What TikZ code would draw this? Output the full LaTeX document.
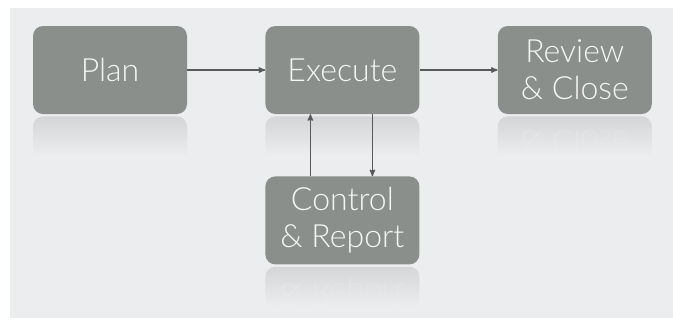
\documentclass[tikz,border=0pt]{standalone}
\usepackage{fontspec}
\setmainfont{Lato Light}
\usetikzlibrary{arrows,positioning,fadings}

\definecolor{boxgray}{HTML}{8A8F8C}
\definecolor{bggray}{HTML}{ECEDEF}
\definecolor{arrowgray}{HTML}{585A5A}
\tikzfading[name=reflfade, top color=transparent!100, bottom color=transparent!0]

\begin{document}
\begin{tikzpicture}[x=1pt,y=1pt,>=stealth',node distance=62pt and 78pt,
    box/.style={rectangle,rounded corners=10pt,fill=boxgray,text=white!92!boxgray,
        minimum width=154pt,minimum height=88pt,inner sep=0pt,align=center,
        font=\fontsize{32}{37}\selectfont},
    flow/.style={->,draw=arrowgray,line width=1.3pt}]

    \useasboundingbox (0,0) rectangle (673,-327);
    \fill[bggray] (10,-8) rectangle (673,-318);

    \node[box] (plan) at (110,-70) {Plan};
    \node[box] (exec) [right=of plan] {Execute};
    \node[box] (review) [right=of exec] {Review\\\& Close};
    \node[box] (ctrl) [below=of exec] {Control\\\& Report};

    % reflections (only the line next to the floor shows)
    \foreach \n/\t in {plan/{},exec/{},review/{\phantom{Review}\\\& Close},ctrl/{\phantom{Control}\\\& Report}} {
        \begin{scope}
            \clip ([yshift=-2pt]\n.south west) rectangle ([yshift=-40pt]\n.south east);
            \node[box,opacity=.25,yscale=-1,transform shape,anchor=south] at ([yshift=-2pt]\n.south) {\t};
        \end{scope}
        \fill[bggray,path fading=reflfade] ([yshift=-1pt]\n.south west) rectangle ([yshift=-41pt]\n.south east);
    }

    \draw[flow] (plan) -- (exec);
    \draw[flow] (exec) -- (review);
    \draw[flow] ([xshift=-32pt]ctrl.north) -- ([xshift=-32pt]exec.south);
    \draw[flow] ([xshift=30pt]exec.south) -- ([xshift=30pt]ctrl.north);
\end{tikzpicture}
\end{document}
